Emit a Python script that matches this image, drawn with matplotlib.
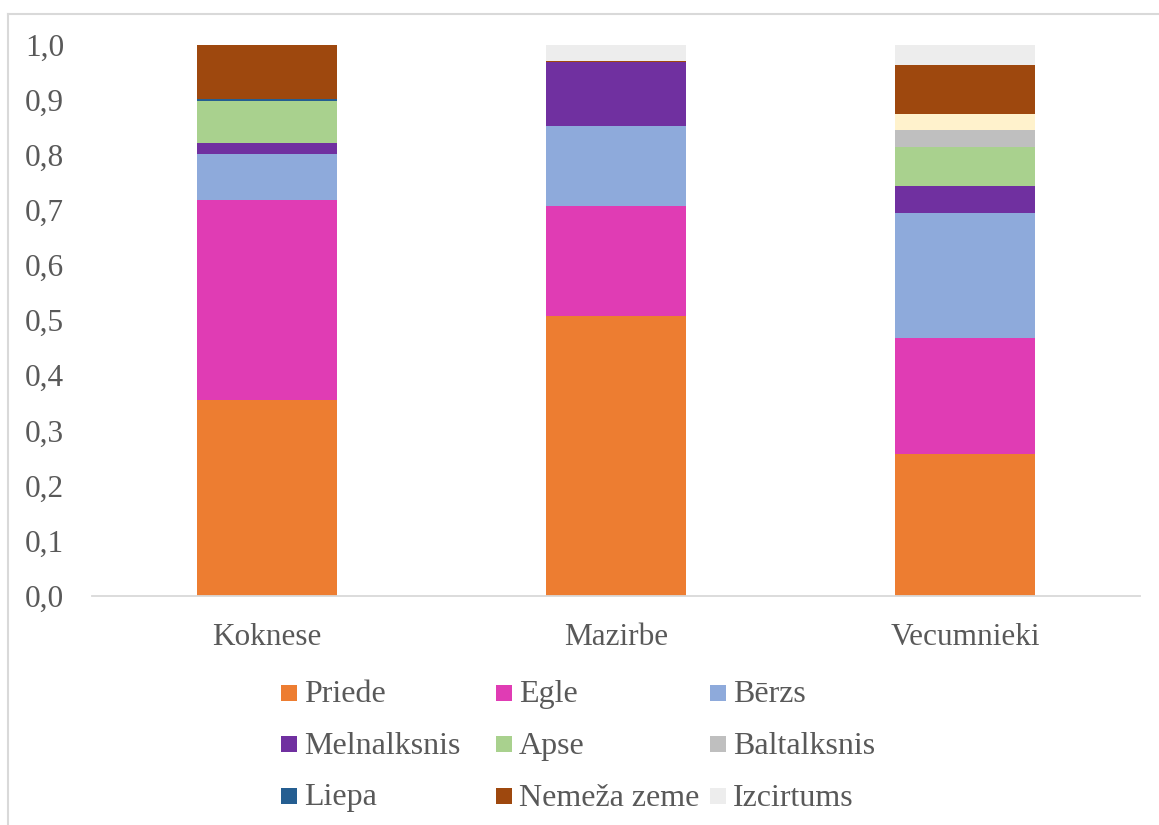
import matplotlib.pyplot as plt
from matplotlib.patches import Rectangle
from matplotlib.lines import Line2D
from matplotlib.ticker import FuncFormatter

# teritorijas
vietas = ['Koknese', 'Mazirbe', 'Vecumnieki']

# platību daļas pa sugām (stabiņi krājas šādā secībā no apakšas)
priede = [0.355, 0.507, 0.257]
egle = [0.363, 0.201, 0.211]
berzs = [0.084, 0.145, 0.227]
melnalksnis = [0.020, 0.115, 0.049]
apse = [0.076, 0.000, 0.070]
baltalksnis = [0.000, 0.000, 0.032]
cits = [0.000, 0.000, 0.028]          # leģendā nav
liepa = [0.003, 0.000, 0.000]
nemeza = [0.099, 0.002, 0.089]
izcirtums = [0.000, 0.030, 0.037]

serijas = [
    ('Priede', priede, '#ED7D31'),
    ('Egle', egle, '#E03CB4'),
    ('Bērzs', berzs, '#8EAADB'),
    ('Melnalksnis', melnalksnis, '#7030A0'),
    ('Apse', apse, '#A9D18E'),
    ('Baltalksnis', baltalksnis, '#BFBFBF'),
    (None, cits, '#FFF2CC'),
    ('Liepa', liepa, '#255E91'),
    ('Nemeža zeme', nemeza, '#9E480E'),
    ('Izcirtums', izcirtums, '#EDEDED'),
]

plt.rcParams['font.family'] = ['Liberation Serif', 'DejaVu Serif']
teksta_krasa = '#595959'

fig = plt.figure(figsize=(11.59, 8.25), dpi=100)
ax = fig.add_axes([92 / 1159, 1 - 595.7 / 825, 1048 / 1159, 551 / 825])

x = list(range(len(vietas)))
apaksa = [0.0] * len(vietas)
for nosaukums, vertibas, krasa in serijas:
    ax.bar(x, vertibas, width=0.4, bottom=apaksa, color=krasa, linewidth=0)
    apaksa = [a + v for a, v in zip(apaksa, vertibas)]

ax.set_xlim(-0.5, 2.5)
ax.set_ylim(0, 1.0)
ax.set_yticks([i / 10 for i in range(11)])
ax.yaxis.set_major_formatter(FuncFormatter(lambda v, p: f'{v:.1f}'.replace('.', ',')))
ax.set_xticks(x)
ax.set_xticklabels(vietas)
ax.tick_params(axis='both', length=0, labelsize=22.5, colors=teksta_krasa)
ax.tick_params(axis='y', pad=20)
ax.tick_params(axis='x', pad=20)

for s in ['left', 'right', 'top']:
    ax.spines[s].set_visible(False)
ax.spines['bottom'].set_color('#D9D9D9')
ax.spines['bottom'].set_linewidth(1.3)

# diagrammas rāmis (augšā un kreisajā pusē)
W, H = 1159, 825
fig.add_artist(Line2D([7.5 / W, 1], [1 - 13.5 / H, 1 - 13.5 / H], color='#D9D9D9', lw=1.5))
fig.add_artist(Line2D([7.5 / W, 7.5 / W], [0, 1 - 13.5 / H], color='#D9D9D9', lw=1.5))

# leģenda trīs kolonnās
kolonnas = [281, 496, 710]
rindas = [692.6, 744.3, 796]
ierakstiem = [(n, k) for n, v, k in serijas if n is not None]
for i, (nosaukums, krasa) in enumerate(ierakstiem):
    kx = kolonnas[i % 3]
    ry = rindas[i // 3]
    fig.add_artist(Rectangle((kx / W, 1 - (ry + 8) / H), 16 / W, 16 / H,
                             transform=fig.transFigure, color=krasa, lw=0))
    fig.text((kx + 23) / W, 1 - (ry + 9.5) / H, nosaukums, fontsize=23,
             color=teksta_krasa, va='baseline', ha='left')

fig.savefig('out.png', dpi=100)
